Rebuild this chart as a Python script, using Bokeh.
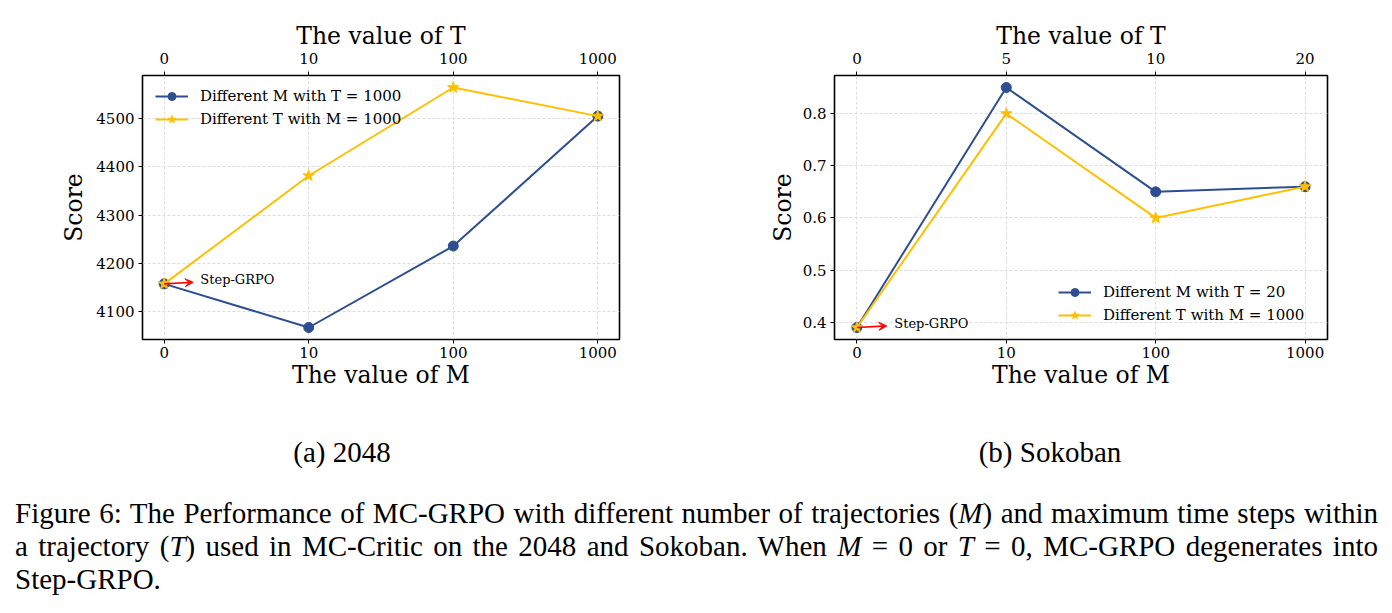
from bokeh.plotting import figure
from bokeh.models import (Range1d, FixedTicker, SingleIntervalTicker, LinearAxis,
                          Legend, LegendItem, Label, Arrow, VeeHead, Div, Spacer)
from bokeh.layouts import column, row
from bokeh.embed import file_html
from bokeh.resources import INLINE

# ---- data -------------------------------------------------------------
# 2048
m_labels_2048 = ["0", "10", "100", "1000"]
t_labels_2048 = ["0", "10", "100", "1000"]
score_m_2048 = [4158, 4068, 4236, 4504]   # different M, T = 1000
score_t_2048 = [4158, 4381, 4563, 4504]   # different T, M = 1000

# Sokoban
m_labels_sok = ["0", "10", "100", "1000"]
t_labels_sok = ["0", "5", "10", "20"]
score_m_sok = [0.39, 0.85, 0.65, 0.66]    # different M, T = 20
score_t_sok = [0.39, 0.80, 0.60, 0.66]    # different T, M = 1000

legend_m_2048 = "Different M with T = 1000"
legend_t_2048 = "Different T with M = 1000"
legend_m_sok = "Different M with T = 20"
legend_t_sok = "Different T with M = 1000"

# ---- style ------------------------------------------------------------
BLUE = "#2E4E92"
GOLD = "#FFBF00"
SERIF = "DejaVu Serif"
GRID = "#dcdcdc"


def style_axis(ax, standoff, label_standoff):
    ax.axis_line_color = None
    ax.major_tick_line_color = "black"
    ax.major_tick_line_width = 1
    ax.major_tick_out = 4
    ax.major_tick_in = 0
    ax.minor_tick_line_color = None
    ax.major_label_text_font = SERIF
    ax.major_label_text_font_size = "15px"
    ax.major_label_text_color = "black"
    ax.major_label_standoff = standoff
    ax.axis_label_text_font = SERIF
    ax.axis_label_text_font_size = "23.5px"
    ax.axis_label_text_font_style = "normal"
    ax.axis_label_text_color = "black"
    ax.axis_label_standoff = label_standoff


def panel(m_labels, t_labels, s_m, s_t, lab_m, lab_t, y_step,
          legend_xy, border_left, frame_w, border_right, ylabel_standoff):
    xs = list(range(len(m_labels)))
    lo, hi = min(s_m + s_t), max(s_m + s_t)
    ypad = 0.05 * (hi - lo)
    xpad = 0.05 * (xs[-1] - xs[0])

    p = figure(frame_width=frame_w, frame_height=264,
               min_border_left=border_left, min_border_right=border_right,
               min_border_top=75, min_border_bottom=71,
               x_range=Range1d(xs[0] - xpad, xs[-1] + xpad),
               y_range=Range1d(lo - ypad, hi + ypad),
               x_axis_label="The value of M", y_axis_label="Score",
               output_backend="svg", toolbar_location=None)
    p.outline_line_color = "black"
    p.outline_line_width = 1.6
    p.background_fill_color = "white"
    p.border_fill_color = "white"

    bottom = p.below[0]
    left = p.left[0]

    xt = FixedTicker(ticks=xs)
    yt = SingleIntervalTicker(interval=y_step)
    bottom.ticker = xt
    bottom.major_label_overrides = {i: lab for i, lab in enumerate(m_labels)}
    left.ticker = yt
    p.xgrid.ticker = xt
    p.ygrid.ticker = yt
    for g in (p.xgrid, p.ygrid):
        g.grid_line_color = GRID
        g.grid_line_dash = "3 2"
        g.grid_line_width = 1

    top = LinearAxis(ticker=xt, axis_label="The value of T",
                     major_label_overrides={i: lab for i, lab in enumerate(t_labels)})
    p.add_layout(top, "above")

    style_axis(bottom, 3, 0)
    style_axis(left, 4, ylabel_standoff)
    style_axis(top, 8, 0)

    lm = p.line(xs, s_m, line_color=BLUE, line_width=2)
    cm = p.scatter(xs, s_m, marker="circle", size=10, fill_color=BLUE, line_color=BLUE)
    lt = p.line(xs, s_t, line_color=GOLD, line_width=2)
    ct = p.scatter(xs, s_t, marker="star", size=12, fill_color=GOLD, line_color=GOLD)

    legend = Legend(items=[LegendItem(label=lab_m, renderers=[lm, cm]),
                           LegendItem(label=lab_t, renderers=[lt, ct])],
                    location=legend_xy, background_fill_alpha=0,
                    border_line_alpha=0, glyph_width=33, glyph_height=20,
                    label_height=20, label_standoff=12, spacing=3,
                    padding=0, margin=0, label_text_font=SERIF,
                    label_text_font_size="15px", label_text_color="black")
    p.add_layout(legend)

    # Step-GRPO marker: M = 0 / T = 0 start point
    span = (hi + ypad) - (lo - ypad)
    x0, y0 = xs[0], s_m[0]
    p.add_layout(Arrow(end=VeeHead(size=8, fill_color="red", line_color="red"),
                       x_start=x0, y_start=y0, x_end=x0 + 0.2,
                       y_end=y0 + 0.006 * span,
                       line_color="red", line_width=1.6))
    p.add_layout(Label(x=x0 + 0.25, y=y0 + 0.015 * span, text="Step-GRPO",
                       text_font=SERIF, text_font_size="13px",
                       text_baseline="middle", text_align="left",
                       text_color="black"))
    return p


p_2048 = panel(m_labels_2048, t_labels_2048, score_m_2048, score_t_2048,
               legend_m_2048, legend_t_2048, 100, (13, 210), 142, 477, 77, 5)
p_sok = panel(m_labels_sok, t_labels_sok, score_m_sok, score_t_sok,
              legend_m_sok, legend_t_sok, 0.1, (224, 14), 138, 493, 65, 3)

cap_style = {"font-family": "Liberation Serif", "font-size": "29px",
             "line-height": "33px", "color": "black"}

sub_a = Div(text='<div style="width:684px;text-align:center">(a) 2048</div>',
            width=684, height=33, margin=(26, 0, 0, 0), styles=cap_style)
sub_b = Div(text='<div style="width:684px;text-align:center">(b) Sokoban</div>',
            width=684, height=33, margin=(26, 0, 0, 0), styles=cap_style)

jl = "text-align:justify;text-align-last:justify;"
caption_html = (
    '<div style="margin-left:15px;width:1363px">'
    f'<div style="{jl}">Figure 6: The Performance of MC-GRPO with different number of '
    'trajectories (<i>M</i>) and maximum time steps within</div>'
    f'<div style="{jl}">a trajectory (<i>T</i>) used in MC-Critic on the 2048 and Sokoban. '
    'When <i>M</i> = 0 or <i>T</i> = 0, MC-GRPO degenerates into</div>'
    '<div>Step-GRPO.</div></div>'
)
caption = Div(text=caption_html, width=1392, height=99, margin=(28, 0, 0, 0),
              styles=cap_style)

layout = column(row(p_2048, p_sok),
                row(sub_a, Spacer(width=24, height=33), sub_b),
                caption)

open("out.html", "w").write(file_html(layout, INLINE))
